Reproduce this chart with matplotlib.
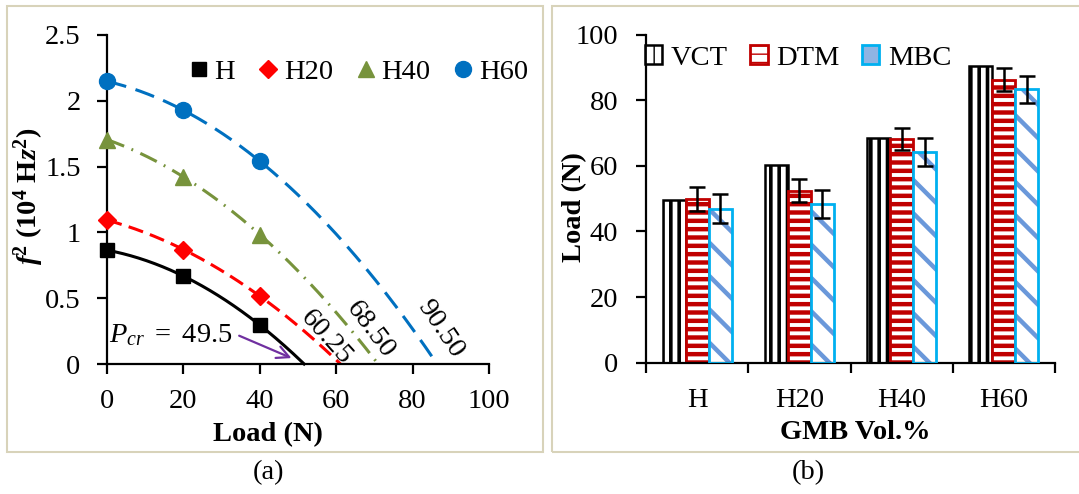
import numpy as np
import matplotlib
matplotlib.use("Agg")
import matplotlib.pyplot as plt
from matplotlib.patches import Rectangle, Patch

plt.rcParams['font.family'] = ['Liberation Serif', 'DejaVu Serif']
plt.rcParams['mathtext.fontset'] = 'custom'
plt.rcParams['mathtext.rm'] = 'Liberation Serif'
plt.rcParams['mathtext.it'] = 'Liberation Serif:italic'
plt.rcParams['mathtext.bf'] = 'Liberation Serif:bold'
plt.rcParams['mathtext.bfit'] = 'Liberation Serif:italic:bold'

# ---- (a) squared natural frequency vs axial load ----
load = [0, 20, 40]
f2_H = [0.865, 0.668, 0.296]
f2_H20 = [1.093, 0.870, 0.516]
f2_H40 = [1.705, 1.422, 0.984]
f2_H60 = [2.148, 1.928, 1.541]
series_names = ['H', 'H20', 'H40', 'H60']
pcr_labels = ['49.5', '60.25', '68.50', '90.50']

# ---- (b) critical buckling load by method ----
groups = ['H', 'H20', 'H40', 'H60']
vct = [49.5, 60.25, 68.5, 90.5]
dtm = [50.0, 52.4, 68.2, 86.3]
dtm_err = [3.6, 3.5, 3.5, 3.4]
mbc = [47.0, 48.4, 64.3, 83.3]
mbc_err = [4.3, 4.25, 4.25, 4.25]

FS = 20.5
fig = plt.figure(figsize=(10.79, 4.94), dpi=100)

# panel frames
border = '#D8D3BA'
fig.patches.append(Rectangle((7 / 1079, 42 / 494), 536 / 1079, 446 / 494,
                             transform=fig.transFigure, fill=False,
                             edgecolor=border, lw=1.5))
fig.patches.append(Rectangle((552 / 1079, 42 / 494), 540 / 1079, 446 / 494,
                             transform=fig.transFigure, fill=False,
                             edgecolor=border, lw=1.5))


def style_axes(ax):
    for s in ('top', 'right'):
        ax.spines[s].set_visible(False)
    for s in ('left', 'bottom'):
        ax.spines[s].set_linewidth(1.6)
    ax.tick_params(axis='both', direction='out', length=7, width=1.6,
                   labelsize=FS)


def center_label(lbl):
    lbl.set_verticalalignment('center')
    lbl.set_horizontalalignment('center')
    lbl.set_rotation_mode('default')


# ---------------- panel (a) ----------------
axa = fig.add_axes([107 / 1079, 130 / 494, 382 / 1079, 329 / 494])
style_axes(axa)
axa.set_xlim(0, 100)
axa.set_ylim(0, 2.5)
axa.set_xticks(np.arange(0, 101, 20))
axa.set_yticks([0, 0.5, 1, 1.5, 2, 2.5])
axa.set_yticklabels(['0', '0.5', '1', '1.5', '2', '2.5'])
axa.tick_params(axis='x', pad=11)
axa.tick_params(axis='y', pad=12)

styles = [
    dict(color='black', marker='s', ls='-', ms=10.5),
    dict(color='#FF0000', marker='D', ls=(0, (5, 2.4)), ms=9),
    dict(color='#77933C', marker='^', ls=(0, (6, 2.6, 0.6, 2.6)), ms=11),
    dict(color='#0070C0', marker='o', ls=(0, (6.5, 3.2)), ms=11.5),
]
all_f2 = [f2_H, f2_H20, f2_H40, f2_H60]
handles = []
for name, ys, st in zip(series_names, all_f2, styles):
    # second-order trendline through the measured points, carried to f^2 = 0
    coef = np.polyfit(load, ys, 2)
    r = np.roots(coef)
    r = r[np.isreal(r)].real
    x_end = r[r > 0].min()
    xs = np.linspace(0, x_end, 200)
    axa.plot(xs, np.polyval(coef, xs), color=st['color'], ls=st['ls'],
             lw=2.2, clip_on=False, zorder=2)
    h, = axa.plot(load, ys, ls='none', marker=st['marker'], ms=st['ms'],
                  color=st['color'], clip_on=False, zorder=3, label=name)
    handles.append(h)

axa.legend(handles=handles, loc='center', bbox_to_anchor=(0.66, 0.888),
           ncol=4, frameon=False, fontsize=FS, handlelength=0.6,
           handletextpad=0.25, columnspacing=0.85, borderpad=0)

# critical load labels along the curves
axa.text(57.4, 0.2, pcr_labels[1], fontsize=FS, rotation=-48,
         ha='center', va='center')
axa.text(69.0, 0.26, pcr_labels[2], fontsize=FS, rotation=-53,
         ha='center', va='center')
axa.text(87.4, 0.27, pcr_labels[3], fontsize=FS, rotation=-56,
         ha='center', va='center')
axa.text(0.6, 0.22, r'$P_{cr}\ =\ $' + pcr_labels[0], fontsize=FS,
         ha='left', va='center')
axa.annotate('', xy=(48.3, 0.045), xytext=(34.6, 0.215),
             arrowprops=dict(arrowstyle='->', color='#7030A0', lw=1.6,
                             mutation_scale=22, shrinkA=0, shrinkB=0))

axa.set_xlabel('Load (N)', fontsize=FS, fontweight='bold')
center_label(axa.xaxis.label)
axa.xaxis.set_label_coords(0.421, -0.216)
axa.set_ylabel(r'$\mathbfit{f}^{\mathbf{2}}\ \mathbf{(10^{4}\ H}\mathbfit{z}^{\mathbf{2}}\mathbf{)}$',
               fontsize=FS)
center_label(axa.yaxis.label)
axa.yaxis.set_label_coords(-0.205, 0.508)

# ---------------- panel (b) ----------------
axb = fig.add_axes([646 / 1079, 131.3 / 494, 409 / 1079, 328 / 494])
style_axes(axb)
axb.set_xlim(-0.5, 3.5)
axb.set_ylim(0, 100)
axb.set_yticks(np.arange(0, 101, 20))
axb.set_xticks(np.arange(-0.5, 3.6, 1))
axb.set_xticklabels([])
axb.set_xticks(np.arange(len(groups)), minor=True)
axb.set_xticklabels(groups, minor=True)
axb.tick_params(axis='x', which='minor', length=0, labelsize=FS, pad=18)
axb.tick_params(axis='y', pad=13)

x = np.arange(len(groups))
w = 0.225


def hatch_lw(bars, lw):
    for b in bars:
        if hasattr(b, 'set_hatch_linewidth'):
            b.set_hatch_linewidth(lw)


b1 = axb.bar(x - w, vct, w, facecolor='white', edgecolor='black',
             hatch='||', lw=1.8, zorder=2)
hatch_lw(b1, 2.6)
b2 = axb.bar(x, dtm, w, facecolor='white', edgecolor='#C00000',
             hatch='--', lw=2.0, zorder=2)
hatch_lw(b2, 3.2)
b3 = axb.bar(x + w, mbc, w, facecolor='white', edgecolor='#6A98DA',
             hatch='\\', lw=0, zorder=2)
hatch_lw(b3, 3.2)
axb.bar(x + w, mbc, w, facecolor='none', edgecolor='#00B0F0', lw=2.0,
        zorder=3)
axb.errorbar(x, dtm, yerr=dtm_err, fmt='none', ecolor='black', elinewidth=1.8,
             capsize=5.5, capthick=1.8, zorder=4)
axb.errorbar(x + w, mbc, yerr=mbc_err, fmt='none', ecolor='black',
             elinewidth=1.8, capsize=5.5, capthick=1.8, zorder=4)

leg_handles = [
    Patch(facecolor='white', edgecolor='black', hatch='||', lw=1.8, label='VCT'),
    Patch(facecolor='white', edgecolor='#C00000', hatch='--', lw=2.0, label='DTM'),
    Patch(facecolor='#8FB4E3', edgecolor='#00B0F0', lw=2.0, label='MBC'),
]
axb.legend(handles=leg_handles, loc='center', bbox_to_anchor=(0.372, 0.929),
           ncol=3, frameon=False, fontsize=FS, handlelength=0.6,
           handleheight=0.6, handletextpad=0.3, columnspacing=0.8,
           borderpad=0)

axb.set_xlabel('GMB Vol.%', fontsize=FS, fontweight='bold')
center_label(axb.xaxis.label)
axb.xaxis.set_label_coords(0.511, -0.214)
axb.set_ylabel('Load (N)', fontsize=FS, fontweight='bold')
center_label(axb.yaxis.label)
axb.yaxis.set_label_coords(-0.174, 0.475)

fig.text(268 / 1079, 21 / 494, '(a)', fontsize=FS, ha='center', va='center')
fig.text(808 / 1079, 21 / 494, '(b)', fontsize=FS, ha='center', va='center')

fig.savefig('out.png', dpi=100)
